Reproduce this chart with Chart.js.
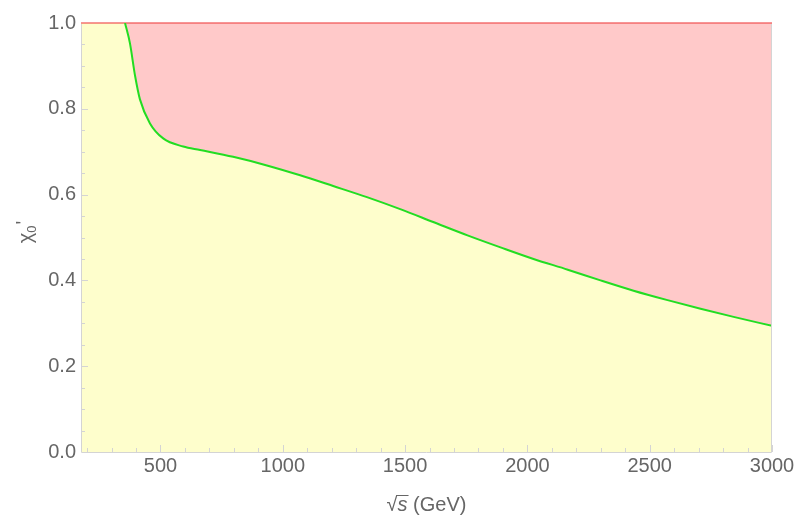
<!DOCTYPE html>
<html>
<head>
<meta charset="utf-8">
<script src="https://cdn.jsdelivr.net/npm/chart.js@4.4.1/dist/chart.umd.min.js"></script>
<style>
    html, body { margin: 0; padding: 0; background: #ffffff; }
    #wrap { width: 800px; height: 519px; }
</style>
</head>
<body>
<div id="wrap"><canvas id="chart" width="800" height="519"></canvas></div>
<script>
// === DATA ===
const X_MIN = 175;
const X_MAX = 3000;
const xTicks = [500, 1000, 1500, 2000, 2500, 3000];
const yTicks = [0.0, 0.2, 0.4, 0.6, 0.8, 1.0];

// boundary curve
const sqrtS = [355, 375, 396, 416, 457, 511, 593, 662, 797, 935, 1071, 1206, 1344, 1480, 1615, 1755, 1890, 2025, 2165, 2299, 2434, 2573, 2708, 2843, 3000];
const chiBound = [1.0, 0.953, 0.877, 0.822, 0.766, 0.731, 0.712, 0.704, 0.688, 0.668, 0.645, 0.620, 0.594, 0.566, 0.536, 0.505, 0.477, 0.450, 0.425, 0.400, 0.376, 0.354, 0.334, 0.315, 0.294];

// === COLORS ===
const COLORS = {
    allowed: "#fefecc",
    excluded: "#ffc9c9",
    curve: "#22dd22",
    top: "rgba(240, 80, 80, 0.6)",
    frame: "#d4d4d4",
    text: "#666666",
};
const FONT = "'Liberation Sans', Arial, sans-serif";

const curvePts = sqrtS.map((x, i) => ({ x: x, y: chiBound[i] }));
const regionPts = [{ x: X_MIN, y: 1.0 }].concat(curvePts);
const topPts = [{ x: X_MIN, y: 1.0 }, { x: X_MAX, y: 1.0 }];

// frame + tick marks, Mathematica style
const framePlugin = {
    id: "frame",
    afterDatasetsDraw(chart) {
        const { ctx, chartArea: a, scales } = chart;
        ctx.save();
        ctx.strokeStyle = COLORS.frame;
        ctx.lineWidth = 1;
        ctx.beginPath();
        ctx.moveTo(a.left + 0.5, a.top + 1);
        ctx.lineTo(a.left + 0.5, a.bottom + 0.5);
        ctx.lineTo(a.right - 0.5, a.bottom + 0.5);
        ctx.lineTo(a.right - 0.5, a.top + 1);
        ctx.stroke();

        ctx.beginPath();
        for (let v = 200; v <= X_MAX; v += 100) {
            const px = Math.round(scales.x.getPixelForValue(v)) + 0.5;
            const len = v % 500 === 0 ? 7 : 4;
            ctx.moveTo(px, a.bottom);
            ctx.lineTo(px, a.bottom - len);
        }
        for (let k = 1; k < 20; k++) {
            const v = k * 0.05;
            const py = Math.round(scales.y.getPixelForValue(v)) + 0.5;
            const len = k % 4 === 0 ? 7 : 4;
            ctx.moveTo(a.left, py);
            ctx.lineTo(a.left + len, py);
        }
        ctx.stroke();
        ctx.restore();
    },
    afterDraw(chart) {
        const { ctx, chartArea: a } = chart;
        ctx.save();
        ctx.fillStyle = COLORS.text;
        ctx.strokeStyle = COLORS.text;
        ctx.textBaseline = "alphabetic";
        ctx.textAlign = "left";

        // x title: √s (GeV)
        const cx = (a.left + a.right) / 2;
        const base = 511;
        ctx.font = "20px " + FONT;
        const wRoot = ctx.measureText("\u221A").width;
        ctx.font = "italic 20px " + FONT;
        const wS = ctx.measureText("s").width;
        ctx.font = "20px " + FONT;
        const wRest = ctx.measureText(" (GeV)").width;
        let x0 = cx - (wRoot + wS + wRest) / 2;
        ctx.fillText("\u221A", x0, base);
        ctx.font = "italic 20px " + FONT;
        ctx.fillText("s", x0 + wRoot, base);
        ctx.lineWidth = 1;
        ctx.beginPath();
        ctx.moveTo(x0 + wRoot - 1, base - 15.5);
        ctx.lineTo(x0 + wRoot + wS + 1, base - 15.5);
        ctx.stroke();
        ctx.font = "20px " + FONT;
        ctx.fillText(" (GeV)", x0 + wRoot + wS, base);

        // y title: χ0'
        ctx.translate(32, (a.top + a.bottom) / 2 - 5);
        ctx.rotate(-Math.PI / 2);
        ctx.font = "20px " + FONT;
        const wChi = ctx.measureText("\u03C7").width;
        ctx.font = "13px " + FONT;
        const wSub = ctx.measureText("0").width;
        ctx.font = "20px " + FONT;
        const wPrime = ctx.measureText("'").width;
        let y0 = -(wChi + wSub + wPrime) / 2;
        ctx.fillText("\u03C7", y0, 0);
        ctx.font = "13px " + FONT;
        ctx.fillText("0", y0 + wChi, 4);
        ctx.font = "20px " + FONT;
        ctx.fillText("'", y0 + wChi + wSub + 1, -2);
        ctx.restore();
    },
};

const ctx = document.getElementById("chart").getContext("2d");
new Chart(ctx, {
    type: "line",
    data: {
        datasets: [
            {
                label: "bound",
                data: curvePts,
                borderColor: COLORS.curve,
                borderWidth: 2,
                pointRadius: 0,
                cubicInterpolationMode: "monotone",
                fill: false,
            },
            {
                label: "top",
                data: topPts,
                borderColor: COLORS.top,
                borderWidth: 2,
                pointRadius: 0,
                clip: 4,
                fill: false,
            },
            {
                label: "excluded",
                data: regionPts,
                borderWidth: 0,
                borderColor: "transparent",
                backgroundColor: COLORS.excluded,
                pointRadius: 0,
                cubicInterpolationMode: "monotone",
                fill: "end",
            },
            {
                label: "allowed",
                data: regionPts,
                borderWidth: 0,
                borderColor: "transparent",
                backgroundColor: COLORS.allowed,
                pointRadius: 0,
                cubicInterpolationMode: "monotone",
                fill: "origin",
            },
        ],
    },
    options: {
        responsive: false,
        animation: false,
        layout: { padding: { top: 23, right: 28, left: 0, bottom: 0 } },
        plugins: {
            legend: { display: false },
            tooltip: { enabled: false },
        },
        scales: {
            x: {
                type: "linear",
                min: X_MIN,
                max: X_MAX,
                afterBuildTicks: (scale) => {
                    scale.ticks = xTicks.map((v) => ({ value: v }));
                },
                afterFit: (scale) => { scale.height = 67; },
                grid: { display: false, drawTicks: false },
                border: { display: false },
                ticks: {
                    color: COLORS.text,
                    font: { family: FONT, size: 20 },
                    padding: 2,
                    maxRotation: 0,
                    callback: (v) => String(v),
                },
            },
            y: {
                type: "linear",
                min: 0,
                max: 1,
                afterBuildTicks: (scale) => {
                    scale.ticks = yTicks.map((v) => ({ value: v }));
                },
                afterFit: (scale) => { scale.width = 81; },
                grid: { display: false, drawTicks: false },
                border: { display: false },
                ticks: {
                    color: COLORS.text,
                    font: { family: FONT, size: 20 },
                    padding: 5,
                    callback: (v) => Number(v).toFixed(1),
                },
            },
        },
    },
    plugins: [framePlugin],
});
</script>
</body>
</html>
